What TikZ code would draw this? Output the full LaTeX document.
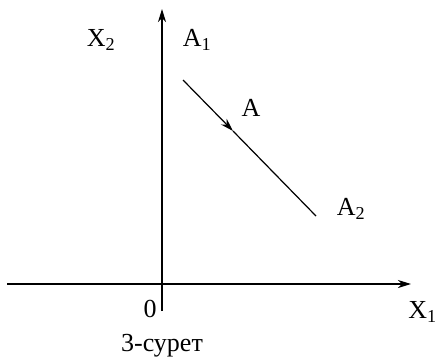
\documentclass[tikz,border=0pt]{standalone}
\usepackage{fontspec}
\setmainfont{Liberation Serif}
\usetikzlibrary{arrows.meta,positioning}

\begin{document}
\begin{tikzpicture}[x=1pt, y=-1pt, >={Stealth[length=13pt, width=8pt, inset=4pt]},
    lbl/.style={font=\fontsize{26}{30}\selectfont, inner sep=0pt},
    axis/.style={line width=1.5pt},
    seg/.style={line width=1.2pt}]
    \useasboundingbox (0,0) rectangle (438,360);
    % axes
    \coordinate (xl) at (7,284);
    \coordinate (xr) at (411,284);
    \coordinate (yb) at (162,311);
    \coordinate (yt) at (162,9);
    \draw[axis, ->] (xl) -- (xr);
    \draw[axis, ->] (yb) -- (yt);
    % segment A1 A2
    \coordinate (a1) at (183,80);
    \coordinate (am) at (233,131);
    \coordinate (a2) at (316,216);
    \draw[seg, ->] (a1) -- (am);
    \draw[seg] (am) -- (a2);
    % labels
    \node[lbl] (x2) at (101,40) {X\textsubscript{2}};
    \node[lbl] (lA1) at (197,40) {A\textsubscript{1}};
    \node[lbl] (lA) at (251,108) {A};
    \node[lbl] (lA2) at (351,209) {A\textsubscript{2}};
    \node[lbl] (zero) at (150,309) {0};
    \node[lbl, anchor=east] (x1) at (437,312) {X\textsubscript{1}};
    \node[lbl] (cap) at (162,346) {3-сурет};
\end{tikzpicture}
\end{document}
